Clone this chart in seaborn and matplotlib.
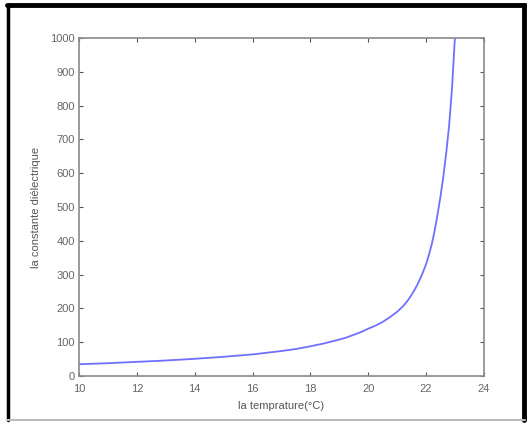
import matplotlib
matplotlib.use("Agg")
import matplotlib.pyplot as plt
from matplotlib.lines import Line2D
import seaborn as sns
import pandas as pd

# values
temperature = [10, 11, 12, 13, 14, 15, 16, 17, 17.5, 18, 18.5,
               19, 19.25, 19.5, 19.75, 20, 20.25, 20.5, 20.75,
               21, 21.1, 21.2, 21.3, 21.4, 21.5, 21.6, 21.7, 21.8, 21.9,
               22, 22.1, 22.2, 22.3, 22.4, 22.5, 22.6, 22.7, 22.8, 22.9, 23.0]
permittivity = [35, 38, 42, 46, 51, 57, 64, 74, 80, 88, 97,
                108, 114, 122, 130, 140, 149, 160, 174,
                190, 198, 206, 216, 227, 240, 254, 270, 288, 308,
                330, 358, 390, 430, 478, 530, 590, 660, 740, 850, 1000]

x_ticks = [10, 12, 14, 16, 18, 20, 22, 24]
y_ticks = [0, 100, 200, 300, 400, 500, 600, 700, 800, 900, 1000]

df = pd.DataFrame({'T': temperature, 'eps': permittivity})

sns.set_style('white')
plt.rcParams['font.family'] = ['Liberation Sans', 'DejaVu Sans']

fig = plt.figure(figsize=(5.27, 4.23), dpi=100)
ax = fig.add_axes([0.150, 0.111, 0.768, 0.799])

sns.lineplot(x='T', y='eps', data=df, ax=ax, color='#7070ff', linewidth=1.3)

ax.set_xlim(10, 24)
ax.set_ylim(0, 1000)
ax.set_xticks(x_ticks)
ax.set_yticks(y_ticks)
ax.set_xlabel('la temprature(°C)', fontsize=8, color='#555555', labelpad=5)
ax.set_ylabel('la constante diélectrique', fontsize=8, color='#555555', labelpad=7)
ax.tick_params(direction='in', length=3, width=0.8, color='#555555',
               labelcolor='#666666', labelsize=8, top=True, right=True,
               bottom=True, left=True)
ax.tick_params(axis='x', pad=6)
ax.tick_params(axis='y', pad=3)
for s in ax.spines.values():
    s.set_color('#8a8a8a')
    s.set_linewidth(1.2)

# figure frame
fig.add_artist(Line2D([0.014, 0.996], [0.988, 0.988], color='black', lw=3.5, transform=fig.transFigure))
fig.add_artist(Line2D([0.0145, 0.0145], [0.006, 0.988], color='black', lw=2.5, transform=fig.transFigure))
fig.add_artist(Line2D([0.995, 0.995], [0.006, 0.988], color='black', lw=3.5, transform=fig.transFigure))
fig.add_artist(Line2D([0.014, 0.996], [0.006, 0.006], color='#bbbbbb', lw=1.5, transform=fig.transFigure))

plt.savefig('out.png', dpi=100)
